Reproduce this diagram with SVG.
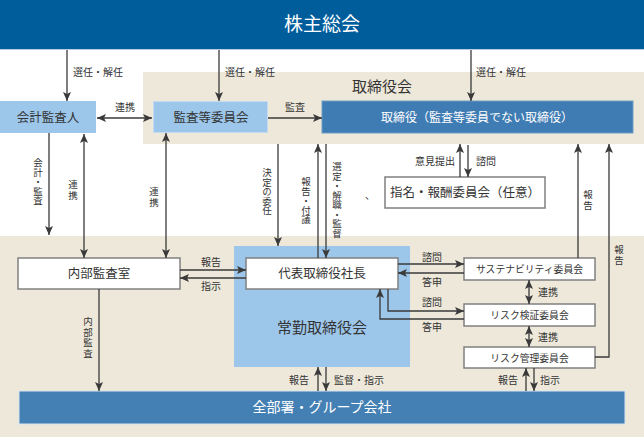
<svg xmlns="http://www.w3.org/2000/svg" width="644" height="437" viewBox="0 0 644 437">
<style>
text{font-family:"Noto Sans CJK JP","Noto Sans CJK SC",sans-serif;fill:#333}
.lbl{font-size:10px}
.box{font-size:12.5px}
.sm{font-size:9.8px}
.w{fill:#fff}
.v{writing-mode:vertical-rl;font-size:9.5px}
.ln{stroke:#3a3a3a;stroke-width:1.3;fill:none}
.ar{marker-end:url(#ah)}
.dbl{marker-start:url(#ah);marker-end:url(#ah)}
.wb{fill:#fff;stroke:#808080;stroke-width:1.5}
.lb{fill:#9cc6ea;stroke:#c4dcf2;stroke-width:1}
</style>
<defs>
<marker id="ah" markerUnits="userSpaceOnUse" markerWidth="10" markerHeight="8" refX="9" refY="4" orient="auto-start-reverse">
<path d="M0,0 L9,4 L0,8 L2,4 z" fill="#3a3a3a"/>
</marker>
</defs>
<rect x="0" y="0" width="644" height="437" fill="#fff"/>
<rect x="143" y="72" width="501" height="72" fill="#ede8da"/>
<rect x="0" y="236" width="644" height="201" fill="#ede8da"/>
<text x="382" y="92" font-size="15" text-anchor="middle">取締役会</text>

<g id="kabunushi">
<rect x="0" y="0" width="644" height="49" fill="#005d9c"/>
<line x1="0" y1="49.5" x2="644" y2="49.5" stroke="#b8cfe2" stroke-width="1"/>
<text x="322" y="31" font-size="19" text-anchor="middle" class="w">株主総会</text>
</g>
<g id="kaikei">
<rect x="0" y="101" width="96" height="32" fill="#9cc6ea"/>
<text x="48" y="122" class="box" text-anchor="middle">会計監査人</text>
</g>
<g id="kansatou">
<rect x="153.5" y="101.5" width="114" height="31" class="lb"/>
<text x="211" y="122" class="box" text-anchor="middle">監査等委員会</text>
</g>
<g id="torishimariyaku">
<rect x="322" y="101" width="311" height="32" fill="#3f7cb3" stroke="#6f9dc6" stroke-width="1"/>
<text x="477" y="122" font-size="12" text-anchor="middle" class="w">取締役（監査等委員でない取締役）</text>
</g>
<g id="shimei">
<rect x="385" y="177" width="160" height="31" class="wb"/>
<text x="465" y="197" class="box" text-anchor="middle">指名・報酬委員会（任意）</text>
</g>
<g id="jokin">
<rect x="234" y="246" width="176" height="121" fill="#9cc6ea"/>
<text x="322" y="333" font-size="15" text-anchor="middle">常勤取締役会</text>
</g>
<g id="naibu">
<rect x="18" y="258" width="162" height="31" class="wb"/>
<text x="99" y="278" class="box" text-anchor="middle">内部監査室</text>
</g>
<g id="shacho">
<rect x="246" y="258" width="152" height="31" class="wb"/>
<text x="322" y="278" class="box" text-anchor="middle">代表取締役社長</text>
</g>
<g id="sustain">
<rect x="464" y="258" width="131" height="22" class="wb"/>
<text x="529.5" y="273" class="sm" text-anchor="middle">サステナビリティ委員会</text>
</g>
<g id="riskkensho">
<rect x="464" y="304" width="131" height="22" class="wb"/>
<text x="529.5" y="319" class="sm" text-anchor="middle">リスク検証委員会</text>
</g>
<g id="riskkanri">
<rect x="464" y="347" width="131" height="21" class="wb"/>
<text x="529.5" y="361.5" class="sm" text-anchor="middle">リスク管理委員会</text>
</g>
<g id="zenbusho">
<rect x="19" y="391" width="606" height="33" fill="#4480b4" stroke="#d8e4ee" stroke-width="1"/>
<text x="322" y="412" font-size="14" text-anchor="middle" class="w">全部署・グループ会社</text>
</g>

<g id="connectors">
<line x1="67" y1="50" x2="67" y2="101" class="ln ar"/>
<line x1="219" y1="50" x2="219" y2="101" class="ln ar"/>
<line x1="471" y1="50" x2="471" y2="101" class="ln ar"/>
<line x1="97" y1="118" x2="152" y2="118" class="ln dbl"/>
<line x1="268" y1="118" x2="322" y2="118" class="ln ar"/>
<line x1="49" y1="133" x2="49" y2="235" class="ln ar"/>
<line x1="84" y1="134" x2="84" y2="258" class="ln dbl"/>
<line x1="166" y1="133" x2="166" y2="258" class="ln dbl"/>
<line x1="278" y1="144" x2="278" y2="246" class="ln ar"/>
<line x1="318" y1="258" x2="318" y2="144" class="ln ar"/>
<line x1="326" y1="144" x2="326" y2="258" class="ln ar"/>
<line x1="460" y1="177" x2="460" y2="144" class="ln ar"/>
<line x1="468" y1="145" x2="468" y2="177" class="ln ar"/>
<line x1="578" y1="258" x2="578" y2="144" class="ln ar"/>
<path d="M595,357 H609 V144" class="ln ar"/>
<line x1="180" y1="270" x2="246" y2="270" class="ln ar"/>
<line x1="246" y1="278" x2="180" y2="278" class="ln ar"/>
<line x1="398" y1="264" x2="464" y2="264" class="ln ar"/>
<line x1="464" y1="273" x2="398" y2="273" class="ln ar"/>
<path d="M388,289 V311 H464" class="ln ar"/>
<path d="M464,319 H380 V289" class="ln ar"/>
<line x1="529" y1="280" x2="529" y2="304" class="ln dbl"/>
<line x1="529" y1="326" x2="529" y2="347" class="ln dbl"/>
<line x1="99" y1="289" x2="99" y2="391" class="ln ar"/>
<line x1="318" y1="391" x2="318" y2="367" class="ln ar"/>
<line x1="326" y1="367" x2="326" y2="391" class="ln ar"/>
<line x1="526" y1="391" x2="526" y2="368" class="ln ar"/>
<line x1="534" y1="368" x2="534" y2="391" class="ln ar"/>
</g>

<g id="labels" class="lbl">
<text x="73" y="76">選任・解任</text>
<text x="225" y="76">選任・解任</text>
<text x="476" y="76">選任・解任</text>
<text x="125" y="111" text-anchor="middle">連携</text>
<text x="295" y="111" text-anchor="middle">監査</text>
<text x="211" y="266" text-anchor="middle">報告</text>
<text x="211" y="290" text-anchor="middle">指示</text>
<text x="432" y="261" text-anchor="middle">諮問</text>
<text x="432" y="286" text-anchor="middle">答申</text>
<text x="432" y="306" text-anchor="middle">諮問</text>
<text x="432" y="331" text-anchor="middle">答申</text>
<text x="538" y="296">連携</text>
<text x="538" y="341">連携</text>
<text x="455" y="165" text-anchor="end">意見提出</text>
<text x="476" y="165">諮問</text>
<text x="309" y="384" text-anchor="end">報告</text>
<text x="334" y="384">監督・指示</text>
<text x="518" y="384" text-anchor="end">報告</text>
<text x="540" y="384">指示</text>
<text x="365" y="199">、</text>
<text class="v" x="38" y="158">会計・監査</text>
<text class="v" x="73" y="180" style="letter-spacing:1px">連携</text>
<text class="v" x="154" y="187" style="letter-spacing:1px">連携</text>
<text class="v" x="267" y="168">決定の委任</text>
<text class="v" x="306" y="177">報告・付議</text>
<text class="v" x="337" y="162">選定・解職・監督</text>
<text class="v" x="588" y="190" style="letter-spacing:1px">報告</text>
<text class="v" x="619" y="245" style="letter-spacing:1px">報告</text>
<text class="v" x="88" y="317" style="letter-spacing:1px">内部監査</text>
</g>
</svg>
